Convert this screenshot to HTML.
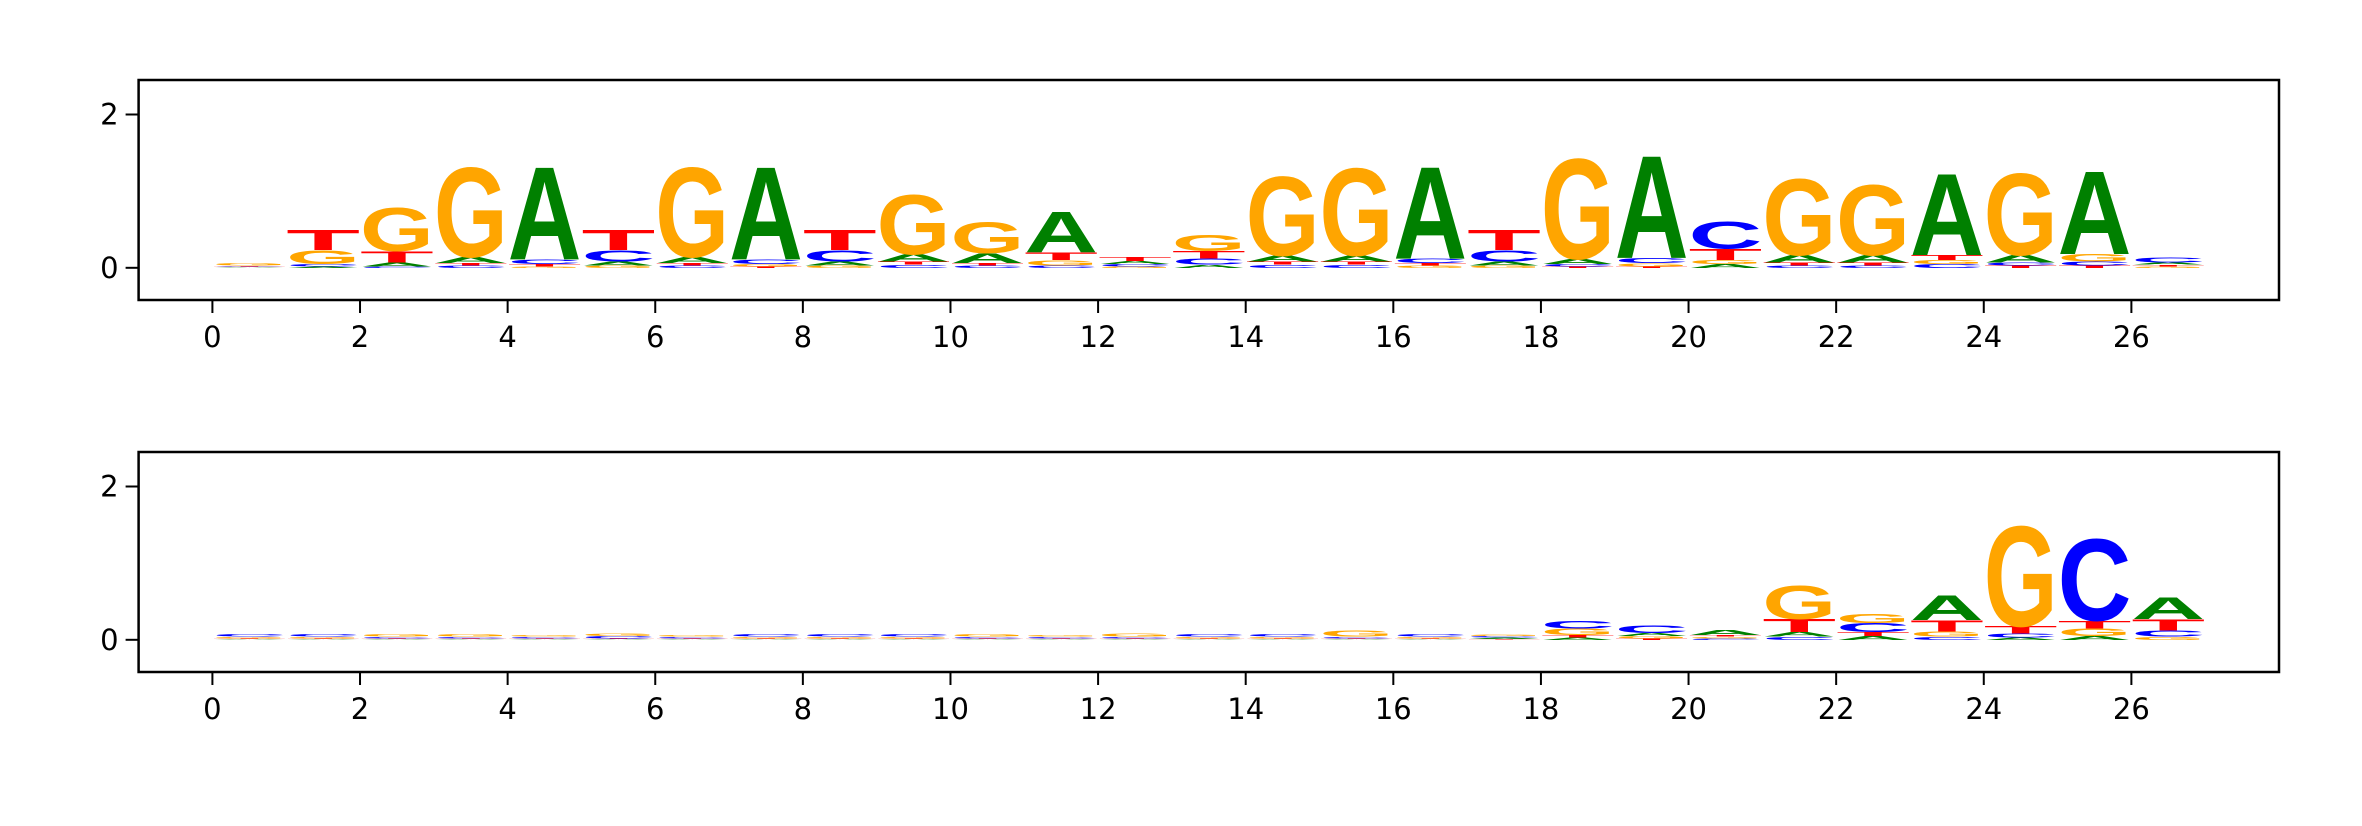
<!DOCTYPE html>
<html><head><meta charset="utf-8"><style>html,body{margin:0;padding:0;background:#fff}svg{display:block}</style></head>
<body>
<svg id="chart" width="2362" height="826" xmlns="http://www.w3.org/2000/svg" font-family="Liberation Sans, DejaVu Sans, sans-serif"></svg>
<script>
// Panel 1 heights per position (A, C, G, T)
const topA=[.01,.02,.05,.08,1.25,.05,.08,1.25,.05,.1,.13,.55,.04,.04,.08,.08,1.24,.05,.07,1.38,.05,.1,.1,1.1,.1,1.12,.03];
const topC=[.01,.03,.02,.03,.06,.15,.03,.06,.15,.04,.03,.03,.03,.08,.04,.04,.06,.15,.03,.07,.37,.03,.03,.05,.04,.05,.07];
const topG=[.03,.18,.58,1.2,.02,.03,1.2,.03,.03,.8,.42,.07,.02,.22,1.06,1.18,.03,.03,1.35,.04,.05,1.03,.95,.05,1.1,.1,.02];
const topT=[.01,.27,.15,.03,.03,.27,.03,.02,.27,.04,.03,.1,.05,.1,.04,.04,.03,.27,.02,.02,.15,.04,.04,.07,.03,.03,.02];
// Panel 2 heights per position (A, C, G, T)
const botA=[.01,.01,.01,.01,.01,.01,.01,.01,.01,.01,.01,.01,.01,.01,.01,.01,.01,.02,.03,.04,.07,.06,.05,.33,.03,.05,.3];
const botC=[.03,.03,.02,.02,.02,.03,.02,.03,.03,.03,.02,.02,.02,.03,.03,.02,.03,.02,.1,.1,.02,.04,.12,.04,.05,1.1,.08];
const botG=[.02,.02,.03,.03,.02,.03,.02,.02,.02,.02,.03,.02,.04,.02,.02,.08,.02,.02,.09,.03,.02,.45,.12,.07,1.35,.1,.04];
const botT=[.01,.01,.01,.01,.01,.01,.01,.01,.01,.01,.01,.01,.01,.01,.01,.01,.01,.01,.03,.02,.02,.17,.05,.15,.1,.1,.15];
const xTicks=[0,2,4,6,8,10,12,14,16,18,20,22,24,26];
const yTicks=[0,2];
const letters=['A','C','G','T'];
const colors={A:'#008000',C:'#0000ff',G:'#ffa500',T:'#ff0000'};
const NS='http://www.w3.org/2000/svg';
const svg=document.getElementById('chart');
function mk(tag,attrs,parent){const e=document.createElementNS(NS,tag);for(const k in attrs)e.setAttribute(k,attrs[k]);parent.appendChild(e);return e;}
function panel(name,top,bottom,series){
  const left=138.6,right=2279,xmin=-1,xmax=28,ymin=-0.42,ymax=2.45;
  const xs=v=>left+(v-xmin)/(xmax-xmin)*(right-left);
  const ys=v=>bottom-(v-ymin)/(ymax-ymin)*(bottom-top);
  const g=mk('g',{},svg);
  
  
  const n=series[0].length;
  for(let i=0;i<n;i++){
    const items=letters.map((l,k)=>({l,h:series[k][i]})).sort((a,b)=>a.h-b.h);
    let base=0;
    for(const it of items){
      if(it.h<=0)continue;
      const y0=ys(base),y1=ys(base+it.h);
      const h=y0-y1, w=xs(i+1)-xs(i);
      const t=mk('text',{x:0,y:0,'font-size':100,'font-weight':'bold',fill:colors[it.l],textLength:w.toFixed(2),lengthAdjust:'spacingAndGlyphs',transform:`translate(${xs(i).toFixed(2)},${y0.toFixed(2)}) scale(1,${(h/72).toFixed(4)})`},g);
      
      
      t.textContent=it.l;
      base+=it.h;
    }
  }
  const fr=mk('rect',{x:left,y:top,width:right-left,height:bottom-top,fill:'none',stroke:'#000','stroke-width':2.5},g);
  
  
  for(const v of xTicks){
    const x=xs(v);
    mk('line',{x1:x,x2:x,y1:bottom,y2:bottom+13,stroke:'#000','stroke-width':2},g);
    const tl=mk('text',{x:x,y:bottom+47,'font-size':29,'font-family':'DejaVu Sans, sans-serif','text-anchor':'middle',fill:'#000'},g);
    
    
    tl.textContent=v;
  }
  for(const v of yTicks){
    const y=ys(v);
    mk('line',{x1:left-13,x2:left,y1:y,y2:y,stroke:'#000','stroke-width':2},g);
    const tl=mk('text',{x:left-20,y:y+10,'font-size':29,'font-family':'DejaVu Sans, sans-serif','text-anchor':'end',fill:'#000'},g);
    
    
    tl.textContent=v;
  }
}
panel('top-logo-panel',80,300,[topA,topC,topG,topT]);
panel('bottom-logo-panel',452,672,[botA,botC,botG,botT]);
</script>
</body></html>
